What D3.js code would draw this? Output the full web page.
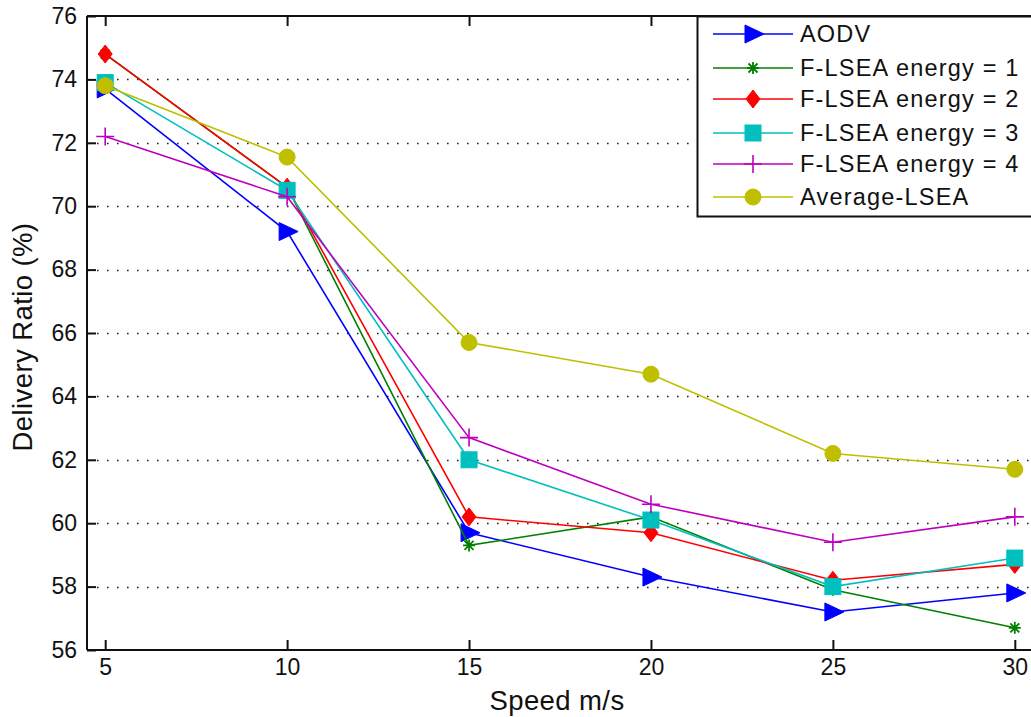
<!DOCTYPE html>
<html>
<head>
<meta charset="utf-8">
<script src="https://cdn.jsdelivr.net/npm/d3@7"></script>
<style>
  html, body { margin: 0; padding: 0; background: #fff; }
  svg { display: block; }
  text { font-family: "Liberation Sans", Arial, sans-serif; fill: #111; }
</style>
</head>
<body>
<svg id="chart" width="1031" height="717"></svg>
<script>
// Speed (m/s) on the x axis
const speeds = [5, 10, 15, 20, 25, 30];

// Delivery ratio (%) for each protocol
const aodv    = [73.7, 69.2, 59.7, 58.3, 57.2, 57.8];
const energy1 = [74.8, 70.6, 59.3, 60.2, 57.9, 56.7];
const energy2 = [74.8, 70.6, 60.2, 59.7, 58.2, 58.7];
const energy3 = [73.9, 70.5, 62.0, 60.1, 58.0, 58.9];
const energy4 = [72.2, 70.3, 62.7, 60.6, 59.4, 60.2];
const average = [73.8, 71.55, 65.7, 64.7, 62.2, 61.7];

const seriesNames = ["AODV", "F-LSEA energy = 1", "F-LSEA energy = 2",
                     "F-LSEA energy = 3", "F-LSEA energy = 4", "Average-LSEA"];
const seriesValues = [aodv, energy1, energy2, energy3, energy4, average];
const seriesColors = ["#0000ff", "#008000", "#ff0000", "#00bfbf", "#bf00bf", "#bfbf00"];
const seriesMarkers = ["triangle", "star", "diamond", "square", "plus", "circle"];

const xTicks = [5, 10, 15, 20, 25, 30];
const yTicks = [56, 58, 60, 62, 64, 66, 68, 70, 72, 74, 76];

const svg = d3.select("#chart");
const plotLeft = 87, plotTop = 16, plotBottom = 650, plotRight = 1033;

const x = d3.scaleLinear().domain([4.5, 30.5]).range([plotLeft, plotRight]);
const y = d3.scaleLinear().domain([56, 76]).range([plotBottom, plotTop]);

// dotted horizontal grid
svg.append("g").selectAll("line").data(yTicks.filter(v => v > 56 && v < 76)).join("line")
  .attr("x1", plotLeft).attr("x2", plotRight)
  .attr("y1", d => Math.round(y(d)) + 0.5).attr("y2", d => Math.round(y(d)) + 0.5)
  .attr("stroke", "#222").attr("stroke-width", 1.6)
  .attr("stroke-dasharray", "1.6,8.4");

// axes with inward ticks
const gLeft = svg.append("g").attr("transform", `translate(${plotLeft},0)`)
  .call(d3.axisLeft(y).tickValues(yTicks).tickSize(-9).tickPadding(10).tickFormat(d3.format("d")));
const gBottom = svg.append("g").attr("transform", `translate(0,${plotBottom})`)
  .call(d3.axisBottom(x).tickValues(xTicks).tickSize(-10).tickPadding(9).tickFormat(d3.format("d")));
const gTop = svg.append("g").attr("transform", `translate(0,${plotTop})`)
  .call(d3.axisTop(x).tickValues(xTicks).tickSize(-10).tickFormat(""));

[gLeft, gBottom, gTop].forEach(g => {
  g.select(".domain").attr("stroke", "#111").attr("stroke-width", 2);
  g.selectAll(".tick line").attr("stroke", "#111").attr("stroke-width", 2);
  g.selectAll(".tick text").attr("font-size", 23).attr("fill", "#111")
    .attr("font-family", "'Liberation Sans', Arial, sans-serif");
});
gLeft.select(".domain").attr("d", `M0,${plotTop}V${plotBottom}`);
gBottom.select(".domain").attr("d", `M${plotLeft},0H${plotRight}`);
gTop.select(".domain").attr("d", `M${plotLeft},0H${plotRight}`);

// axis titles
svg.append("text").attr("x", 557).attr("y", 710).attr("text-anchor", "middle")
  .attr("font-size", 27.5).attr("letter-spacing", 0.4).text("Speed m/s");
svg.append("text").attr("transform", "translate(32,337) rotate(-90)")
  .attr("text-anchor", "middle").attr("font-size", 27.5).attr("letter-spacing", 0.4)
  .text("Delivery Ratio (%)");

// marker shapes
function marker(g, type, color) {
  switch (type) {
    case "triangle":
      g.append("path").attr("d", "M-8,-9L11,0L-8,9Z").attr("fill", color).attr("stroke", color);
      break;
    case "diamond":
      g.append("path").attr("d", "M0,-9L7,0L0,9L-7,0Z").attr("fill", color).attr("stroke", color);
      break;
    case "square":
      g.append("rect").attr("x", -8).attr("y", -8).attr("width", 16).attr("height", 16)
        .attr("fill", color).attr("stroke", color);
      break;
    case "circle":
      g.append("circle").attr("r", 8).attr("fill", color).attr("stroke", color);
      break;
    case "plus":
      g.append("path").attr("d", "M-9,0H9M0,-9V9").attr("stroke", color).attr("stroke-width", 1.6).attr("fill", "none");
      break;
    case "star":
      g.append("path").attr("d", "M-6,0H6M0,-6V6M-4.5,-4.5L4.5,4.5M-4.5,4.5L4.5,-4.5")
        .attr("stroke", color).attr("stroke-width", 1.8).attr("fill", "none");
      break;
  }
}

const line = d3.line().x((d, i) => x(speeds[i])).y(d => y(d));

seriesValues.forEach((vals, k) => {
  const g = svg.append("g");
  g.append("path").datum(vals).attr("d", line)
    .attr("fill", "none").attr("stroke", seriesColors[k]).attr("stroke-width", 1.6);
  vals.forEach((v, i) => {
    const m = g.append("g").attr("transform", `translate(${x(speeds[i])},${y(v)})`);
    marker(m, seriesMarkers[k], seriesColors[k]);
  });
});

// legend
const lg = svg.append("g");
lg.append("rect").attr("x", 697.5).attr("y", 16.5).attr("width", 340).attr("height", 200)
  .attr("fill", "#fff").attr("stroke", "#111").attr("stroke-width", 2);
const rowY = [34, 68, 99, 133, 164, 197];
seriesNames.forEach((name, k) => {
  const yy = rowY[k];
  lg.append("line").attr("x1", 713).attr("x2", 793).attr("y1", yy).attr("y2", yy)
    .attr("stroke", seriesColors[k]).attr("stroke-width", 1.6);
  const m = lg.append("g").attr("transform", `translate(753,${yy})`);
  marker(m, seriesMarkers[k], seriesColors[k]);
  lg.append("text").attr("x", 800).attr("y", yy + 8).attr("font-size", 23.5)
    .attr("letter-spacing", 1.2).text(name);
});
</script>
</body>
</html>
